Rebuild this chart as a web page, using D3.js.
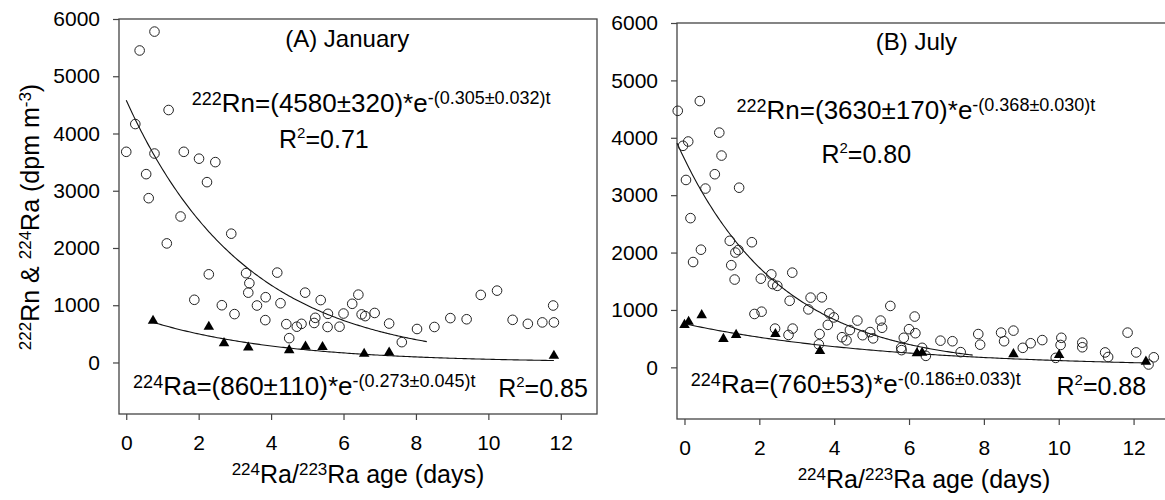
<!DOCTYPE html>
<html>
<head>
<meta charset="utf-8">
<script src="https://cdn.jsdelivr.net/npm/d3@7"></script>
<style>
  html, body { margin: 0; padding: 0; background: #fff; }
  svg { display: block; font-family: "Liberation Sans", Arial, sans-serif; }
</style>
</head>
<body>
<svg id="chart" width="1165" height="500"></svg>
<script>
// ---------------- DATA ----------------
// Panel A (January) 222Rn (open circles)
const janRnAge = [0.78,0.37,1.17,0.25,0.00,0.78,1.59,2.01,2.46,0.55,2.23,0.62,1.50,1.12,2.90,2.28,3.31,3.40,3.37,4.17,
  1.88,2.64,2.99,3.61,3.85,4.26,3.84,4.42,4.50,4.71,4.84,4.94,5.19,5.22,5.37,5.57,5.56,5.89,6.00,6.24,
  6.41,6.50,6.60,6.86,7.26,7.61,8.03,8.51,8.95,9.40,9.79,10.24,10.67,11.09,11.49,11.79,11.81];
const janRnAct = [5780,5450,4410,4165,3680,3650,3680,3560,3500,3290,3150,2870,2550,2080,2250,1540,1560,1385,1220,1570,
  1095,1000,845,995,1140,1035,740,670,425,625,675,1220,690,780,1090,850,620,625,855,1025,
  1185,840,810,865,680,355,585,620,775,755,1180,1255,745,675,700,995,700];
// Panel A (January) 224Ra (filled triangles)
const janRaAge = [0.74,2.28,2.70,3.37,4.50,4.95,5.42,6.57,7.26,11.81];
const janRaAct = [728,623,338,262,216,279,269,152,175,117];

// Panel B (July) 222Rn
const julRnAge = [-0.18,0.41,0.10,-0.04,0.93,0.99,0.04,0.81,0.56,1.46,0.16,1.21,1.80,0.44,1.36,1.44,0.23,1.25,1.34,2.04,
  2.32,2.36,2.48,2.88,2.81,3.37,3.67,3.31,1.87,2.06,3.87,3.99,3.83,2.42,2.89,2.78,3.61,3.59,4.21,4.33,
  4.42,4.62,4.76,4.96,5.04,5.24,5.28,5.50,5.79,5.86,5.80,6.00,6.15,6.17,6.35,6.45,6.84,7.16,7.38,7.85,
  7.90,8.46,8.54,8.79,9.04,9.25,9.56,10.07,10.05,9.92,10.63,10.63,11.24,11.32,11.84,12.07,12.40,12.54];
const julRnAct = [4470,4640,3935,3860,4090,3690,3265,3365,3115,3130,2600,2205,2180,2050,2000,2045,1835,1780,1530,1545,
  1620,1450,1420,1650,1160,1215,1220,1010,930,970,940,870,740,675,675,565,580,400,525,470,
  650,815,560,615,505,815,690,1070,340,515,300,665,885,595,340,200,465,455,265,580,
  395,605,455,640,340,420,475,515,390,165,430,350,260,180,605,260,50,175];
// Panel B (July) 224Ra
const julRaAge = [0.00,0.11,0.46,1.04,1.38,2.43,3.62,6.21,6.35,8.79,10.01,12.33];
const julRaAct = [740,795,910,495,565,580,285,245,255,230,215,100];

// Fitted exponential models: A0 * exp(-k t), drawn over [tStart, tEnd]
const fitA0    = { janRn: 4580, janRa: 860, julRn: 3630, julRa: 760 };
const fitK     = { janRn: 0.305, janRa: 0.273, julRn: 0.368, julRa: 0.186 };
const fitStart = { janRn: 0.0, janRa: 0.74, julRn: -0.2, julRa: 0.1 };
const fitEnd   = { janRn: 8.3, janRa: 11.81, julRn: 7.7, julRa: 12.33 };

// Tick labels
const xTicks = [0, 2, 4, 6, 8, 10, 12];
const yTicks = [0, 1000, 2000, 3000, 4000, 5000, 6000];
const xDomain = [-0.2, 13];
const yDomain = [-900, 6000];

// ---------------- LAYOUT ----------------
const svg = d3.select('#chart');
const FONT = '"Liberation Sans", Arial, sans-serif';

const panels = [
  { key: 'jan', left: 119, top: 19, width: 478, height: 395, rn: 'janRn', ra: 'janRa',
    rnX: janRnAge, rnY: janRnAct, raX: janRaAge, raY: janRaAct,
    title: '(A) January', titlePos: [4.39, 5512],
    rnEq: ['222', 'Rn=(4580±320)*e', '-(0.305±0.032)t'], rnEqPos: [1.81, 4381],
    rnR2: '=0.71', rnR2Pos: [4.22, 3753],
    raEq: ['224', 'Ra=(860±110)*e', '-(0.273±0.045)t'], raEqPos: [0.19, -568],
    raR2: '=0.85', raR2Pos: [10.27, -603], yTitle: true },
  { key: 'jul', left: 677, top: 23, width: 494, height: 396, rn: 'julRn', ra: 'julRa',
    rnX: julRnAge, rnY: julRnAct, raX: julRaAge, raY: julRaAct,
    title: '(B) July', titlePos: [5.11, 5527],
    rnEq: ['222', 'Rn=(3630±170)*e', '-(0.368±0.030)t'], rnEqPos: [1.39, 4325],
    rnR2: '=0.80', rnR2Pos: [3.66, 3554],
    raEq: ['224', 'Ra=(760±53)*e', '-(0.186±0.033)t'], raEqPos: [0.17, -453],
    raR2: '=0.88', raR2Pos: [9.94, -482], yTitle: false }
];

function richText(g, x, y, parts, size, anchor) {
  const t = g.append('text').attr('x', x).attr('y', y)
    .attr('font-size', size).attr('text-anchor', anchor || 'start')
    .attr('fill', '#000').attr('font-family', FONT);
  let shift = 0;
  parts.forEach(p => {
    const target = -(p.raise || 0);
    t.append('tspan').attr('dy', target - shift)
      .attr('font-size', p.size || size).text(p.t);
    shift = target;
  });
  return t;
}

panels.forEach(p => {
  const g = svg.append('g').attr('transform', `translate(${p.left},${p.top})`);
  const x = d3.scaleLinear().domain(xDomain).range([0, p.width]);
  const y = d3.scaleLinear().domain(yDomain).range([p.height, 0]);

  // frame
  g.append('rect').attr('x', 0).attr('y', 0).attr('width', p.width).attr('height', p.height)
    .attr('fill', 'none').attr('stroke', '#444').attr('stroke-width', 1.3);

  // axes
  const xAxis = g.append('g').attr('transform', `translate(0,${p.height})`)
    .call(d3.axisBottom(x).tickValues(xTicks).tickFormat(d3.format('d'))
      .tickSize(6).tickSizeOuter(0).tickPadding(15));
  const yAxis = g.append('g')
    .call(d3.axisLeft(y).tickValues(yTicks).tickFormat(d3.format('d'))
      .tickSize(6).tickSizeOuter(0).tickPadding(13));
  [xAxis, yAxis].forEach(a => {
    a.select('.domain').remove();
    a.selectAll('line').attr('stroke', '#444').attr('stroke-width', 1.2);
    a.selectAll('text').attr('font-size', 21).attr('font-family', FONT).attr('fill', '#000');
  });

  // fitted curves
  const line = d3.line().x(d => x(d[0])).y(d => y(d[1]));
  [p.rn, p.ra].forEach(k => {
    const n = 200, pts = [];
    for (let i = 0; i <= n; i++) {
      const t = fitStart[k] + (fitEnd[k] - fitStart[k]) * i / n;
      pts.push([t, fitA0[k] * Math.exp(-fitK[k] * t)]);
    }
    g.append('path').attr('d', line(pts)).attr('fill', 'none')
      .attr('stroke', '#111').attr('stroke-width', 1.1);
  });

  // Rn circles
  g.selectAll('circle.rn').data(d3.range(p.rnX.length)).enter().append('circle')
    .attr('class', 'rn')
    .attr('cx', i => x(p.rnX[i])).attr('cy', i => y(p.rnY[i])).attr('r', 4.8)
    .attr('fill', 'none').attr('stroke', '#222').attr('stroke-width', 1);

  // Ra triangles
  const tri = d3.symbol().type(d3.symbolTriangle).size(48);
  g.selectAll('path.ra').data(d3.range(p.raX.length)).enter().append('path')
    .attr('class', 'ra')
    .attr('transform', i => `translate(${x(p.raX[i])},${y(p.raY[i])})`)
    .attr('d', tri).attr('fill', '#000');

  // title & equations
  richText(g, x(p.titlePos[0]), y(p.titlePos[1]), [{ t: p.title }], 24);
  richText(g, x(p.rnEqPos[0]), y(p.rnEqPos[1]), [
    { t: p.rnEq[0], size: 18, raise: 7 }, { t: p.rnEq[1] }, { t: p.rnEq[2], size: 18, raise: 8 }], 26);
  richText(g, x(p.rnR2Pos[0]), y(p.rnR2Pos[1]), [
    { t: 'R' }, { t: '2', size: 15, raise: 10 }, { t: p.rnR2 }], 25);
  richText(g, x(p.raEqPos[0]), y(p.raEqPos[1]), [
    { t: p.raEq[0], size: 18, raise: 7 }, { t: p.raEq[1] }, { t: p.raEq[2], size: 18, raise: 8 }], 26);
  richText(g, x(p.raR2Pos[0]), y(p.raR2Pos[1]), [
    { t: 'R' }, { t: '2', size: 15, raise: 10 }, { t: p.raR2 }], 25);

  // x-axis title
  richText(g, p.width / 2, p.height + 69, [
    { t: '224', size: 17, raise: 8 }, { t: 'Ra/' }, { t: '223', size: 17, raise: 8 }, { t: 'Ra age (days)' }], 25, 'middle');

  // y-axis title
  if (p.yTitle) {
    const yt = richText(g, 0, 0, [
      { t: '222', size: 17, raise: 8 }, { t: 'Rn & ' }, { t: '224', size: 17, raise: 8 },
      { t: 'Ra (dpm m' }, { t: '-3', size: 17, raise: 8 }, { t: ')' }], 25, 'middle');
    yt.attr('transform', `translate(${39 - p.left},${217 - p.top}) rotate(-90)`);
  }
});
</script>
</body>
</html>
